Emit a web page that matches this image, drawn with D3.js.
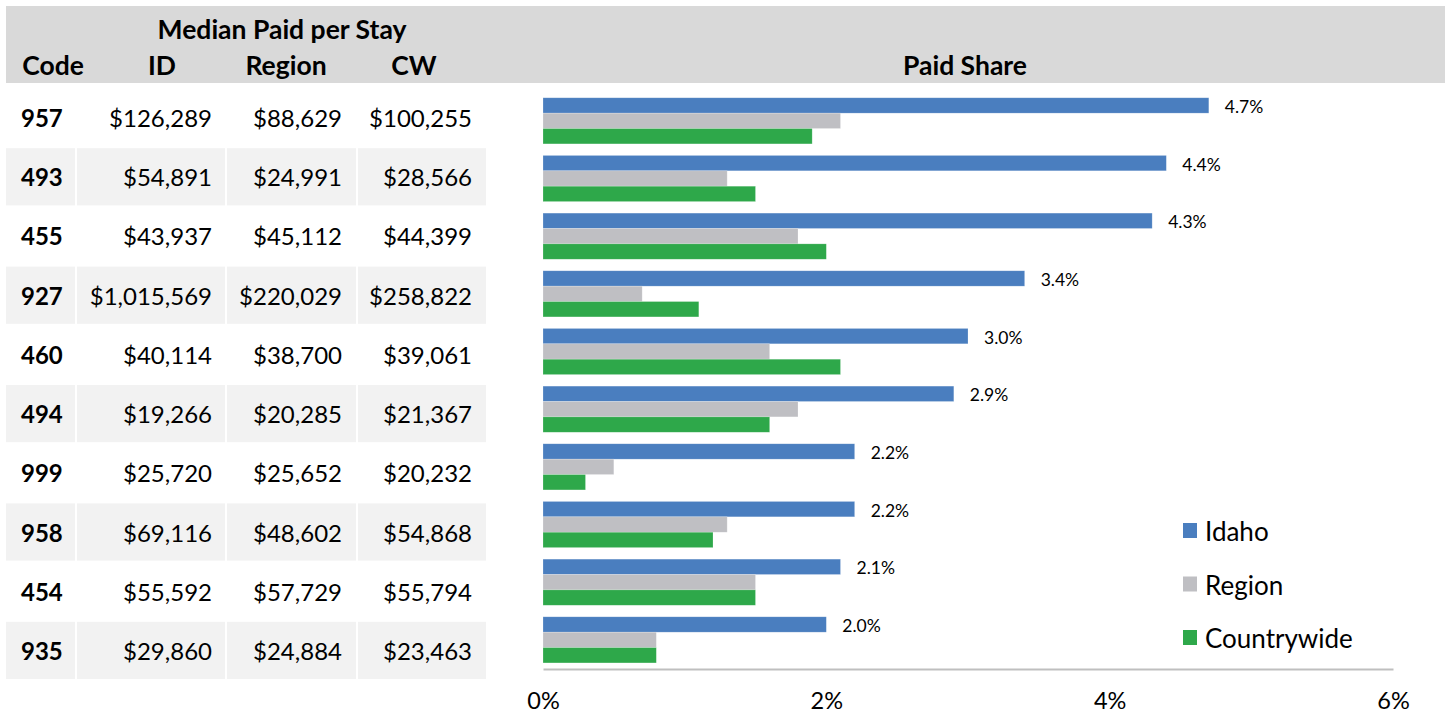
<!DOCTYPE html>
<html lang="en">
<head>
<meta charset="UTF-8">
<title>Median Paid per Stay / Paid Share</title>
<script src="https://cdnjs.cloudflare.com/ajax/libs/d3/7.8.5/d3.min.js"></script>
<style>
  body { margin: 0; background: #fff; }
  svg text { font-family: Lato, "Open Sans", sans-serif; fill: #000; }
</style>
</head>
<body>
<svg id="chart" width="1447" height="715"></svg>
<script>
// Data
const codes = ["957", "493", "455", "927", "460", "494", "999", "958", "454", "935"];
const paidID = ["$126,289", "$54,891", "$43,937", "$1,015,569", "$40,114", "$19,266", "$25,720", "$69,116", "$55,592", "$29,860"];
const paidRegion = ["$88,629", "$24,991", "$45,112", "$220,029", "$38,700", "$20,285", "$25,652", "$48,602", "$57,729", "$24,884"];
const paidCW = ["$100,255", "$28,566", "$44,399", "$258,822", "$39,061", "$21,367", "$20,232", "$54,868", "$55,794", "$23,463"];

const series = ["Idaho", "Region", "Countrywide"];
const shareIdaho = [4.7, 4.4, 4.3, 3.4, 3.0, 2.9, 2.2, 2.2, 2.1, 2.0];
const shareRegion = [2.1, 1.3, 1.8, 0.7, 1.6, 1.8, 0.5, 1.3, 1.5, 0.8];
const shareCW = [1.9, 1.5, 2.0, 1.1, 2.1, 1.6, 0.3, 1.2, 1.5, 0.8];
const xTicks = [0, 2, 4, 6];

const colors = { Idaho: "#4a7ebf", Region: "#bfbfc3", Countrywide: "#2ea84a" };

const svg = d3.select("#chart");

// header band
svg.append("rect")
  .attr("x", 6).attr("y", 6)
  .attr("width", 1439).attr("height", 77)
  .attr("fill", "#d9d9d9");

svg.append("text")
  .attr("x", 282).attr("y", 29)
  .attr("text-anchor", "middle").attr("dominant-baseline", "central")
  .style("font-size", "26.5px").style("font-weight", 700)
  .text("Median Paid per Stay");

const headers = [
  { t: "Code", x: 53 },
  { t: "ID", x: 162 },
  { t: "Region", x: 286 },
  { t: "CW", x: 414 },
  { t: "Paid Share", x: 965 }
];
svg.selectAll(".hdr")
  .data(headers)
  .enter().append("text")
  .attr("class", "hdr")
  .attr("x", d => d.x).attr("y", 65)
  .attr("text-anchor", "middle").attr("dominant-baseline", "central")
  .style("font-size", "26.5px").style("font-weight", 700)
  .text(d => d.t);

// table
const rowY = d3.scaleBand()
  .domain(codes)
  .range([89, 679])
  .paddingInner(0.034)
  .paddingOuter(0);

const cols = [
  { x0: 6, x1: 75 },
  { x0: 77, x1: 225 },
  { x0: 227, x1: 356 },
  { x0: 358, x1: 486 }
];

const tableRows = codes.map((c, i) => ({ code: c, vals: [paidID[i], paidRegion[i], paidCW[i]], i: i }));

const row = svg.selectAll(".row")
  .data(tableRows)
  .enter().append("g")
  .attr("class", "row")
  .attr("transform", d => "translate(0," + rowY(d.code) + ")");

row.filter(d => d.i % 2 === 1)
  .selectAll("rect")
  .data(cols)
  .enter().append("rect")
  .attr("x", d => d.x0)
  .attr("width", d => d.x1 - d.x0)
  .attr("height", rowY.bandwidth())
  .attr("fill", "#f2f2f2");

row.append("text")
  .attr("x", 21)
  .attr("y", rowY.bandwidth() / 2)
  .attr("dominant-baseline", "central")
  .style("font-size", "24px").style("font-weight", 700)
  .text(d => d.code);

const valRight = [212, 342, 472];
row.each(function (d) {
  d3.select(this).selectAll(".val")
    .data(d.vals)
    .enter().append("text")
    .attr("class", "val")
    .attr("x", (v, j) => valRight[j])
    .attr("y", rowY.bandwidth() / 2)
    .attr("text-anchor", "end")
    .attr("dominant-baseline", "central")
    .style("font-size", "24px")
    .text(v => v);
});

// bar chart
const x = d3.scaleLinear().domain([0, 6]).range([543, 1393]);

const y = d3.scaleBand()
  .domain(codes)
  .range([92, 668.7])
  .paddingInner(0.2)
  .paddingOuter(0.1);

const ySub = d3.scaleBand()
  .domain(series)
  .range([0, y.bandwidth()]);

const barData = codes.map((c, i) => ({
  code: c,
  values: [
    { s: "Idaho", v: shareIdaho[i] },
    { s: "Region", v: shareRegion[i] },
    { s: "Countrywide", v: shareCW[i] }
  ]
}));

const grp = svg.selectAll(".grp")
  .data(barData)
  .enter().append("g")
  .attr("class", "grp")
  .attr("transform", d => "translate(0," + y(d.code) + ")");

grp.selectAll("rect")
  .data(d => d.values)
  .enter().append("rect")
  .attr("x", x(0))
  .attr("y", d => ySub(d.s))
  .attr("width", d => x(d.v) - x(0))
  .attr("height", ySub.bandwidth())
  .attr("fill", d => colors[d.s])
  .attr("stroke", "#fff")
  .attr("stroke-opacity", 0.35)
  .attr("stroke-width", 0.6);

grp.append("text")
  .attr("x", d => x(d.values[0].v) + 16)
  .attr("y", ySub("Idaho") + ySub.bandwidth() / 2 + 1)
  .attr("dominant-baseline", "central")
  .style("font-size", "17.5px")
  .text(d => d.values[0].v.toFixed(1) + "%");

// axis
const xAxis = d3.axisBottom(x)
  .tickValues(xTicks)
  .tickSize(0)
  .tickPadding(23)
  .tickFormat(d => d + "%");

const ax = svg.append("g")
  .attr("transform", "translate(0,669)")
  .call(xAxis);
ax.select(".domain").attr("stroke", "#bfbfbf").attr("stroke-width", 2);
ax.selectAll("text")
  .style("font-family", "Lato, 'Open Sans', sans-serif")
  .style("font-size", "23.5px")
  .attr("fill", "#000");

// legend
const legY = d3.scalePoint().domain(series).range([531, 638]);
const leg = svg.selectAll(".leg")
  .data(series)
  .enter().append("g")
  .attr("class", "leg")
  .attr("transform", d => "translate(1183," + legY(d) + ")");
leg.append("rect")
  .attr("x", 0).attr("y", -8)
  .attr("width", 14).attr("height", 15)
  .attr("fill", d => colors[d]);
leg.append("text")
  .attr("x", 22).attr("y", 0)
  .attr("dominant-baseline", "central")
  .style("font-size", "26px")
  .text(d => d);
</script>
</body>
</html>
